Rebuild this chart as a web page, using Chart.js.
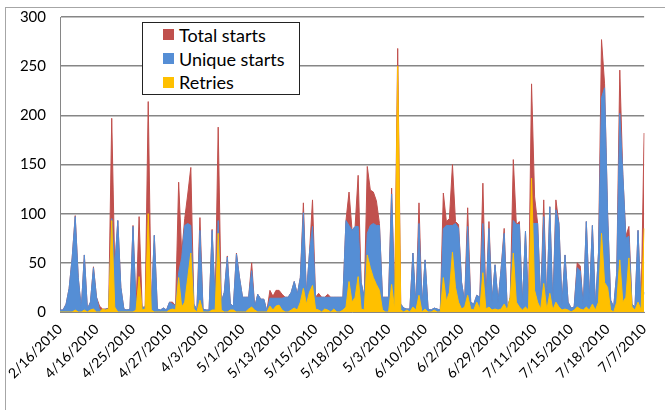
<!DOCTYPE html>
<html>
<head>
<meta charset="utf-8">
<script src="https://cdn.jsdelivr.net/npm/chart.js@4.4.0/dist/chart.umd.min.js"></script>
<style>
  html, body { margin: 0; padding: 0; background: #fff; }
  #wrap { position: relative; width: 665px; height: 410px; overflow: hidden; font-family: Lato, sans-serif; }
  #frame { position: absolute; left: 5px; top: 7px; width: 700px; height: 450px; border: 1px solid #a6a6a6; }
  #chart { position: absolute; left: 0; top: 0; }
  #legend { position: absolute; left: 142px; top: 22px; width: 158px; height: 73px; border: 1px solid #222;
            background: #fff; box-sizing: border-box; }
  .item { display: flex; align-items: center; height: 23.7px; padding-left: 20px; font-size: 18px; color: #000; }
  .sw { width: 11px; height: 11px; margin-right: 5px; flex: none; }
</style>
</head>
<body>
<div id="wrap">
  <div id="frame"></div>
  <canvas id="chart" width="665" height="410"></canvas>
  <div id="legend"></div>
</div>
<script>
// x axis labels, one every 12 days
const tickLabels = ['2/16/2010', '4/16/2010', '4/25/2010', '4/27/2010', '4/3/2010', '5/1/2010',
  '5/13/2010', '5/15/2010', '5/18/2010', '5/3/2010', '6/10/2010', '6/2/2010', '6/29/2010',
  '7/11/2010', '7/15/2010', '7/18/2010', '7/7/2010'];
const labelEvery = 12;

const totalStarts = [
  2, 2, 8, 24, 55, 98, 35, 3, 58, 3, 10, 46,
  15, 6, 3, 3, 4, 197, 45, 93, 25, 3, 2, 3,
  88, 5, 97, 5, 5, 214, 5, 78, 3, 2, 4, 2,
  10, 10, 6, 132, 60, 95, 120, 147, 8, 2, 96, 3,
  2, 2, 84, 10, 188, 10, 20, 57, 8, 6, 60, 35,
  15, 15, 15, 50, 5, 18, 13, 13, 1, 22, 16, 22,
  22, 18, 15, 15, 20, 31, 18, 35, 111, 17, 60, 114,
  15, 19, 15, 15, 18, 15, 15, 15, 15, 15, 93, 122,
  83, 87, 139, 30, 15, 148, 124, 122, 113, 90, 15, 15,
  15, 126, 16, 268, 8, 4, 3, 3, 60, 5, 111, 5,
  53, 3, 2, 4, 3, 2, 121, 92, 95, 150, 92, 89,
  30, 10, 106, 10, 8, 17, 15, 131, 10, 92, 10, 48,
  10, 44, 85, 3, 15, 155, 89, 92, 8, 82, 6, 232,
  117, 90, 10, 114, 8, 107, 5, 114, 90, 8, 58, 10,
  4, 5, 50, 47, 5, 92, 12, 88, 5, 60, 277, 232,
  100, 12, 5, 40, 246, 140, 77, 87, 8, 5, 83, 5, 182
];

const uniqueStarts = [
  2, 2, 8, 24, 55, 97, 35, 3, 58, 3, 10, 45,
  15, 2, 2, 3, 3, 95, 45, 93, 25, 3, 2, 3,
  87, 5, 30, 4, 5, 30, 5, 78, 3, 2, 4, 2,
  10, 8, 6, 40, 55, 88, 90, 88, 8, 2, 83, 3,
  2, 2, 83, 10, 93, 10, 20, 56, 8, 6, 59, 35,
  15, 15, 15, 42, 5, 18, 13, 13, 1, 14, 14, 14,
  14, 14, 15, 15, 20, 31, 18, 35, 101, 17, 60, 87,
  15, 15, 15, 15, 15, 15, 15, 15, 15, 15, 93, 88,
  83, 87, 87, 30, 15, 80, 88, 90, 88, 88, 15, 15,
  15, 120, 16, 20, 8, 4, 3, 3, 60, 5, 90, 5,
  53, 3, 2, 4, 3, 2, 85, 88, 88, 88, 90, 85,
  30, 10, 87, 10, 8, 17, 15, 90, 10, 85, 10, 48,
  10, 44, 80, 3, 15, 93, 89, 89, 8, 82, 6, 90,
  90, 90, 10, 97, 8, 107, 5, 104, 90, 8, 58, 10,
  4, 5, 45, 42, 5, 92, 12, 88, 5, 60, 218, 228,
  100, 12, 5, 40, 202, 140, 75, 77, 8, 5, 83, 5, 20
];

const retries = [
  0, 0, 0, 0, 0, 2, 0, 0, 2, 0, 2, 3,
  0, 0, 3, 2, 3, 93, 5, 0, 0, 0, 0, 0,
  0, 2, 36, 2, 3, 100, 2, 0, 0, 0, 0, 0,
  2, 3, 2, 35, 5, 10, 35, 60, 3, 0, 12, 0,
  0, 0, 2, 2, 80, 2, 0, 0, 2, 2, 0, 0,
  0, 0, 3, 5, 2, 0, 0, 0, 0, 6, 2, 6,
  7, 2, 0, 0, 2, 4, 2, 10, 24, 8, 20, 27,
  3, 2, 0, 3, 2, 0, 3, 0, 0, 2, 5, 31,
  10, 15, 36, 3, 2, 58, 45, 35, 28, 22, 2, 0,
  0, 28, 2, 250, 2, 0, 2, 0, 5, 2, 17, 0,
  3, 0, 0, 2, 0, 0, 35, 11, 20, 61, 25, 10,
  3, 5, 17, 3, 2, 10, 3, 40, 3, 5, 2, 3,
  2, 3, 8, 2, 15, 60, 10, 5, 2, 5, 2, 136,
  22, 10, 3, 29, 2, 19, 2, 10, 5, 2, 3, 2,
  0, 2, 5, 3, 2, 5, 2, 8, 2, 10, 80, 30,
  25, 2, 0, 10, 53, 10, 15, 55, 5, 2, 10, 2, 85
];

const categories = totalStarts.map((_, i) => i % labelEvery === 0 ? tickLabels[i / labelEvery] : '');

const series = [
  { label: 'Total starts', data: totalStarts, color: '#C0504D', order: 3 },
  { label: 'Unique starts', data: uniqueStarts, color: '#558ED5', order: 2 },
  { label: 'Retries', data: retries, color: '#FFC000', order: 1 }
];

// legend drawn as a box inside the plot, like the Excel one
const legend = document.getElementById('legend');
series.forEach(s => {
  const row = document.createElement('div');
  row.className = 'item';
  row.innerHTML = '<span class="sw" style="background:' + s.color + '"></span>' + s.label;
  legend.appendChild(row);
});

new Chart(document.getElementById('chart'), {
  type: 'line',
  data: {
    labels: categories,
    datasets: series.map(s => ({
      label: s.label,
      data: s.data,
      order: s.order,
      fill: 'origin',
      backgroundColor: s.color,
      borderColor: s.color,
      borderWidth: 1,
      pointRadius: 0,
      tension: 0
    }))
  },
  options: {
    responsive: false,
    animation: false,
    layout: { padding: { left: 0, right: 15, top: 17, bottom: 0 } },
    plugins: { legend: { display: false }, tooltip: { enabled: false } },
    scales: {
      x: {
        grid: { display: false, drawTicks: false },
        border: { color: '#868686', width: 1 },
        afterFit: scale => { scale.height = 98; },
        ticks: {
          autoSkip: false,
          minRotation: 45,
          maxRotation: 45,
          padding: 9,
          color: '#000',
          font: { family: 'Lato', size: 14 }
        }
      },
      y: {
        min: 0,
        max: 300,
        grid: { color: '#868686', lineWidth: 1.5, drawTicks: false },
        border: { color: '#868686', width: 1 },
        // fixed axis width; tick padding should not push the plot down
        afterFit: scale => { scale.width = 60; scale.paddingTop = 0; scale.paddingBottom = 0; },
        ticks: {
          stepSize: 50,
          padding: 14,
          color: '#000',
          font: { family: 'Lato', size: 15 }
        }
      }
    }
  }
});
</script>
</body>
</html>
